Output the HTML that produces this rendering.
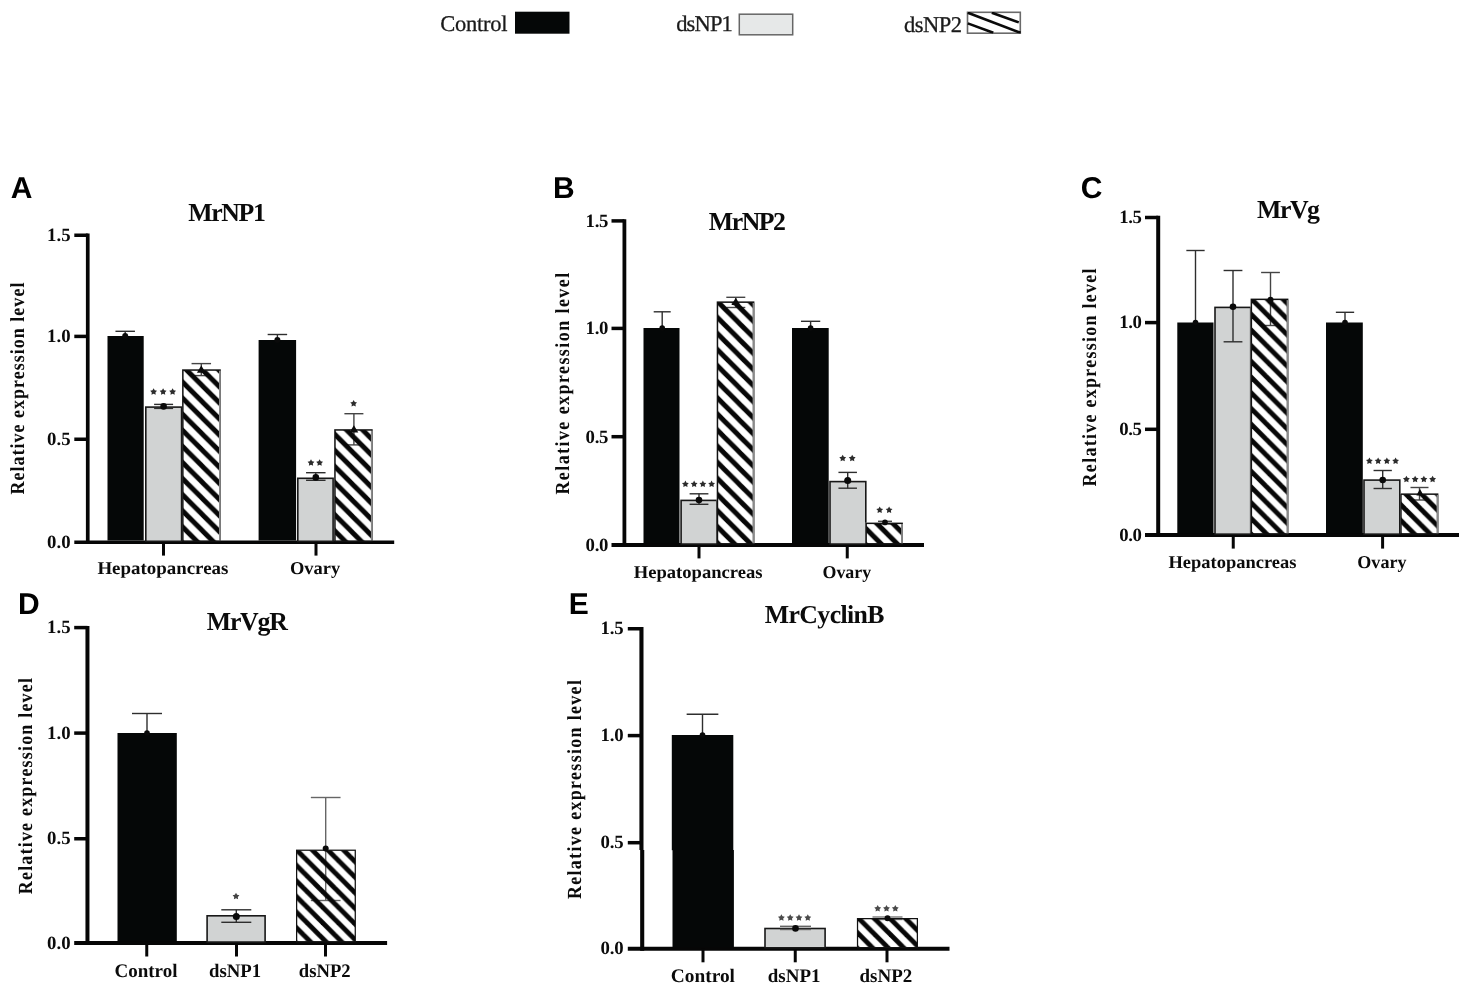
<!DOCTYPE html>
<html lang="en"><head><meta charset="utf-8"><title>Relative expression levels</title>
<style>html,body{margin:0;padding:0;background:#fff;}body{width:1469px;height:992px;overflow:hidden;font-family:"Liberation Serif",serif;}svg{display:block;will-change:transform;}text{text-rendering:geometricPrecision;}</style></head><body>
<svg width="1469" height="992" viewBox="0 0 1469 992">
<rect width="1469" height="992" fill="#ffffff"/>
<defs><pattern id="h1" patternUnits="userSpaceOnUse" x="202" y="449.8" width="16.1" height="16.1"><polygon points="0,-19.55 16.1,-3.45 16.1,3.45 0,-12.650000000000002" fill="#070707"/><polygon points="0,-3.45 16.1,12.650000000000002 16.1,19.55 0,3.45" fill="#070707"/><polygon points="0,12.650000000000002 16.1,28.750000000000004 16.1,35.650000000000006 0,19.55" fill="#070707"/></pattern><pattern id="h2" patternUnits="userSpaceOnUse" x="335" y="434.5" width="16.1" height="16.1"><polygon points="0,-19.55 16.1,-3.45 16.1,3.45 0,-12.650000000000002" fill="#070707"/><polygon points="0,-3.45 16.1,12.650000000000002 16.1,19.55 0,3.45" fill="#070707"/><polygon points="0,12.650000000000002 16.1,28.750000000000004 16.1,35.650000000000006 0,19.55" fill="#070707"/></pattern><pattern id="h3" patternUnits="userSpaceOnUse" x="738.25" y="402.7" width="16.1" height="16.1"><polygon points="0,-19.55 16.1,-3.45 16.1,3.45 0,-12.650000000000002" fill="#070707"/><polygon points="0,-3.45 16.1,12.650000000000002 16.1,19.55 0,3.45" fill="#070707"/><polygon points="0,12.650000000000002 16.1,28.750000000000004 16.1,35.650000000000006 0,19.55" fill="#070707"/></pattern><pattern id="h4" patternUnits="userSpaceOnUse" x="886.9" y="533.5" width="16.1" height="16.1"><polygon points="0,-19.55 16.1,-3.45 16.1,3.45 0,-12.650000000000002" fill="#070707"/><polygon points="0,-3.45 16.1,12.650000000000002 16.1,19.55 0,3.45" fill="#070707"/><polygon points="0,12.650000000000002 16.1,28.750000000000004 16.1,35.650000000000006 0,19.55" fill="#070707"/></pattern><pattern id="h5" patternUnits="userSpaceOnUse" x="1252" y="315.2" width="15.7" height="15.7"><polygon points="0,-19.15 15.7,-3.45 15.7,3.45 0,-12.25" fill="#070707"/><polygon points="0,-3.45 15.7,12.25 15.7,19.15 0,3.45" fill="#070707"/><polygon points="0,12.25 15.7,27.95 15.7,34.85 0,19.15" fill="#070707"/></pattern><pattern id="h6" patternUnits="userSpaceOnUse" x="1422.7" y="510.9" width="15.7" height="15.7"><polygon points="0,-19.15 15.7,-3.45 15.7,3.45 0,-12.25" fill="#070707"/><polygon points="0,-3.45 15.7,12.25 15.7,19.15 0,3.45" fill="#070707"/><polygon points="0,12.25 15.7,27.95 15.7,34.85 0,19.15" fill="#070707"/></pattern><pattern id="h7" patternUnits="userSpaceOnUse" x="321.0" y="921.1" width="15.6" height="15.6"><polygon points="0,-19.05 15.6,-3.45 15.6,3.45 0,-12.149999999999999" fill="#070707"/><polygon points="0,-3.45 15.6,12.149999999999999 15.6,19.05 0,3.45" fill="#070707"/><polygon points="0,12.149999999999999 15.6,27.75 15.6,34.65 0,19.05" fill="#070707"/></pattern><pattern id="h8" patternUnits="userSpaceOnUse" x="889.05" y="933.1" width="15.6" height="15.6"><polygon points="0,-19.05 15.6,-3.45 15.6,3.45 0,-12.149999999999999" fill="#070707"/><polygon points="0,-3.45 15.6,12.149999999999999 15.6,19.05 0,3.45" fill="#070707"/><polygon points="0,12.149999999999999 15.6,27.75 15.6,34.65 0,19.05" fill="#070707"/></pattern></defs>
<text x="440.3" y="31.2" font-family='"Liberation Serif", serif' font-size="22.5" font-weight="normal" text-anchor="start" fill="#1a1a1a" textLength="67.2" lengthAdjust="spacing" stroke="#1a1a1a" stroke-width="0.3">Control</text>
<rect x="515" y="11.7" width="54.5" height="22" fill="#050707"/>
<text x="676.2" y="31.2" font-family='"Liberation Serif", serif' font-size="22.5" font-weight="normal" text-anchor="start" fill="#1a1a1a" textLength="56.6" lengthAdjust="spacing" stroke="#1a1a1a" stroke-width="0.3">dsNP1</text>
<rect x="739.3" y="14.2" width="53.4" height="20.6" fill="#e6e8e8" stroke="#666" stroke-width="1.5"/>
<text x="904" y="31.6" font-family='"Liberation Serif", serif' font-size="22.5" font-weight="normal" text-anchor="start" fill="#1a1a1a" textLength="58" lengthAdjust="spacing" stroke="#1a1a1a" stroke-width="0.3">dsNP2</text>
<g><clipPath id="lgc"><rect x="967" y="12" width="54" height="21.5"/></clipPath>
<rect x="967.5" y="12.3" width="52.8" height="20.9" fill="#fff" stroke="#6a6a6a" stroke-width="1.6"/>
<g clip-path="url(#lgc)" stroke="#0a0a0a" stroke-width="2.6" stroke-linecap="butt">
<line x1="967.8" y1="12.7" x2="1020.6" y2="32.8"/>
<line x1="967.8" y1="23.4" x2="993.3" y2="32.8"/>
<line x1="991.8" y1="12.7" x2="1018.8" y2="22.4"/>
</g></g>
<text x="10.7" y="198.3" font-family='"Liberation Sans", sans-serif' font-size="30" font-weight="bold" text-anchor="start" fill="#000">A</text>
<text x="553" y="198.3" font-family='"Liberation Sans", sans-serif' font-size="30" font-weight="bold" text-anchor="start" fill="#000">B</text>
<text x="1080.8" y="198.3" font-family='"Liberation Sans", sans-serif' font-size="30" font-weight="bold" text-anchor="start" fill="#000">C</text>
<text x="18.1" y="613.5" font-family='"Liberation Sans", sans-serif' font-size="30" font-weight="bold" text-anchor="start" fill="#000">D</text>
<text x="568.7" y="613.5" font-family='"Liberation Sans", sans-serif' font-size="30" font-weight="bold" text-anchor="start" fill="#000">E</text>
<g stroke="#060606" stroke-width="3.7" fill="none" stroke-linecap="butt">
<line x1="87.75" y1="233.6" x2="87.75" y2="544.1"/>
<line x1="74.3" y1="542.25" x2="394.2" y2="542.25"/>
<line x1="74.3" y1="439.25" x2="87.75" y2="439.25" stroke-width="3.5"/>
<line x1="74.3" y1="336.4" x2="87.75" y2="336.4" stroke-width="3.5"/>
<line x1="74.3" y1="235.25" x2="87.75" y2="235.25" stroke-width="3.5"/>
<line x1="163.5" y1="542.25" x2="163.5" y2="555.6" stroke-width="3"/>
<line x1="316" y1="542.25" x2="316" y2="555.6" stroke-width="3"/>
</g>
<text x="70.7" y="240.75" font-family='"Liberation Serif", serif' font-size="18.8" font-weight="bold" text-anchor="end" fill="#0b0b0b" textLength="23.8" lengthAdjust="spacing">1.5</text>
<text x="70.7" y="341.9" font-family='"Liberation Serif", serif' font-size="18.8" font-weight="bold" text-anchor="end" fill="#0b0b0b" textLength="23.8" lengthAdjust="spacing">1.0</text>
<text x="70.7" y="444.75" font-family='"Liberation Serif", serif' font-size="18.8" font-weight="bold" text-anchor="end" fill="#0b0b0b" textLength="23.8" lengthAdjust="spacing">0.5</text>
<text x="70.7" y="547.75" font-family='"Liberation Serif", serif' font-size="18.8" font-weight="bold" text-anchor="end" fill="#0b0b0b" textLength="23.8" lengthAdjust="spacing">0.0</text>
<text x="188.3" y="221" font-family='"Liberation Serif", serif' font-size="25.8" font-weight="bold" text-anchor="start" fill="#0b0b0b" textLength="77.5" lengthAdjust="spacing">MrNP1</text>
<text transform="translate(24.0,494.6) rotate(-90) scale(0.9,1)" font-family='"Liberation Serif", serif' font-size="20" font-weight="bold" fill="#0b0b0b" textLength="235.56" lengthAdjust="spacing">Relative expression level</text>
<text x="97.4" y="574" font-family='"Liberation Serif", serif' font-size="18" font-weight="bold" text-anchor="start" fill="#0b0b0b" textLength="131.0" lengthAdjust="spacingAndGlyphs">Hepatopancreas</text>
<text x="290" y="574" font-family='"Liberation Serif", serif' font-size="18" font-weight="bold" text-anchor="start" fill="#0b0b0b" textLength="50.3" lengthAdjust="spacingAndGlyphs">Ovary</text>
<rect x="107.5" y="336" width="36.19999999999999" height="204.5" fill="#050707"/>
<rect x="145.8" y="407.1" width="35.800000000000004" height="134.2" fill="#d1d3d3" stroke="#181818" stroke-width="1.6"/>
<rect x="182.1" y="369.3" width="38.70000000000002" height="171.2" fill="#fff"/>
<g stroke="#444" stroke-width="1.4" fill="none">
<line x1="201.3" y1="363.6" x2="201.3" y2="375.6"/>
<line x1="191.55" y1="363.6" x2="211.05" y2="363.6"/>
<line x1="191.55" y1="375.6" x2="211.05" y2="375.6"/>
</g>
<rect x="182.85" y="370.05" width="37.20000000000002" height="171.2" fill="url(#h1)" stroke="#111" stroke-width="1.5"/>
<line x1="219.9" y1="370.8" x2="219.9" y2="540.5" stroke="#8a8a8a" stroke-width="1.8"/>
<rect x="258.6" y="340" width="37.5" height="200.5" fill="#050707"/>
<rect x="297.8" y="478.3" width="35.299999999999976" height="63.0" fill="#d1d3d3" stroke="#181818" stroke-width="1.6"/>
<rect x="334.2" y="429.2" width="38.5" height="111.30000000000001" fill="#fff"/>
<g stroke="#444" stroke-width="1.4" fill="none">
<line x1="353.9" y1="413.7" x2="353.9" y2="444.9"/>
<line x1="344.4" y1="413.7" x2="363.4" y2="413.7"/>
<line x1="344.4" y1="444.9" x2="363.4" y2="444.9"/>
</g>
<rect x="334.95" y="429.95" width="37.0" height="111.30000000000001" fill="url(#h2)" stroke="#111" stroke-width="1.5"/>
<line x1="371.8" y1="430.7" x2="371.8" y2="540.5" stroke="#8a8a8a" stroke-width="1.8"/>
<g stroke="#2e2e2e" stroke-width="1.4" fill="none">
<line x1="125.2" y1="331.3" x2="125.2" y2="336"/>
<line x1="115.45" y1="331.3" x2="134.95" y2="331.3"/>
</g>
<circle cx="125.2" cy="336" r="3.0" fill="#0a0a0a"/>
<g stroke="#2e2e2e" stroke-width="1.4" fill="none">
<line x1="163.6" y1="404.4" x2="163.6" y2="408.4"/>
<line x1="154.1" y1="404.4" x2="173.1" y2="404.4"/>
<line x1="154.1" y1="408.4" x2="173.1" y2="408.4"/>
</g>
<circle cx="163.6" cy="406.4" r="3.3" fill="#0a0a0a"/>
<polygon points="153.60,388.20 154.72,390.26 157.02,390.69 155.41,392.39 155.72,394.71 153.60,393.70 151.48,394.71 151.79,392.39 150.18,390.69 152.48,390.26" fill="#2c2c2c"/>
<polygon points="163.10,388.20 164.22,390.26 166.52,390.69 164.91,392.39 165.22,394.71 163.10,393.70 160.98,394.71 161.29,392.39 159.68,390.69 161.98,390.26" fill="#2c2c2c"/>
<polygon points="172.60,388.20 173.72,390.26 176.02,390.69 174.41,392.39 174.72,394.71 172.60,393.70 170.48,394.71 170.79,392.39 169.18,390.69 171.48,390.26" fill="#2c2c2c"/>
<polygon points="201.3,365.4 205.70000000000002,372.8 196.9,372.8" fill="#0a0a0a"/>
<g stroke="#2e2e2e" stroke-width="1.4" fill="none">
<line x1="277.4" y1="334.5" x2="277.4" y2="340"/>
<line x1="267.65" y1="334.5" x2="287.15" y2="334.5"/>
</g>
<circle cx="277.4" cy="340" r="3.0" fill="#0a0a0a"/>
<g stroke="#2e2e2e" stroke-width="1.4" fill="none">
<line x1="315.8" y1="472.7" x2="315.8" y2="480.3"/>
<line x1="306.05" y1="472.7" x2="325.55" y2="472.7"/>
<line x1="306.05" y1="480.3" x2="325.55" y2="480.3"/>
</g>
<circle cx="315.8" cy="477.4" r="3.3" fill="#0a0a0a"/>
<polygon points="311.00,459.20 312.12,461.26 314.42,461.69 312.81,463.39 313.12,465.71 311.00,464.70 308.88,465.71 309.19,463.39 307.58,461.69 309.88,461.26" fill="#2c2c2c"/>
<polygon points="319.60,459.20 320.72,461.26 323.02,461.69 321.41,463.39 321.72,465.71 319.60,464.70 317.48,465.71 317.79,463.39 316.18,461.69 318.48,461.26" fill="#2c2c2c"/>
<polygon points="353.9,425.2 358.29999999999995,432.6 349.5,432.6" fill="#0a0a0a"/>
<polygon points="353.65,399.90 354.77,401.96 357.07,402.39 355.46,404.09 355.77,406.41 353.65,405.40 351.53,406.41 351.84,404.09 350.23,402.39 352.53,401.96" fill="#2c2c2c"/>
<g stroke="#060606" stroke-width="3.8" fill="none" stroke-linecap="butt">
<line x1="624.4" y1="219.2" x2="624.4" y2="546.9"/>
<line x1="611.5" y1="545" x2="924.0" y2="545"/>
<line x1="611.5" y1="436.7" x2="624.4" y2="436.7" stroke-width="3.5"/>
<line x1="611.5" y1="328.4" x2="624.4" y2="328.4" stroke-width="3.5"/>
<line x1="611.5" y1="220.9" x2="624.4" y2="220.9" stroke-width="3.5"/>
<line x1="699" y1="545" x2="699" y2="558.4" stroke-width="3"/>
<line x1="847.25" y1="545" x2="847.25" y2="558.4" stroke-width="3"/>
</g>
<text x="608.4" y="226.9" font-family='"Liberation Serif", serif' font-size="18.8" font-weight="bold" text-anchor="end" fill="#0b0b0b" textLength="22.8" lengthAdjust="spacing">1.5</text>
<text x="608.4" y="334.4" font-family='"Liberation Serif", serif' font-size="18.8" font-weight="bold" text-anchor="end" fill="#0b0b0b" textLength="22.8" lengthAdjust="spacing">1.0</text>
<text x="608.4" y="442.7" font-family='"Liberation Serif", serif' font-size="18.8" font-weight="bold" text-anchor="end" fill="#0b0b0b" textLength="22.8" lengthAdjust="spacing">0.5</text>
<text x="608.4" y="551.0" font-family='"Liberation Serif", serif' font-size="18.8" font-weight="bold" text-anchor="end" fill="#0b0b0b" textLength="22.8" lengthAdjust="spacing">0.0</text>
<text x="708.8" y="229.5" font-family='"Liberation Serif", serif' font-size="25.8" font-weight="bold" text-anchor="start" fill="#0b0b0b" textLength="77.2" lengthAdjust="spacing">MrNP2</text>
<text transform="translate(568.5,494.6) rotate(-90) scale(0.9,1)" font-family='"Liberation Serif", serif' font-size="20" font-weight="bold" fill="#0b0b0b" textLength="246.44" lengthAdjust="spacing">Relative expression level</text>
<text x="633.8" y="578.2" font-family='"Liberation Serif", serif' font-size="18" font-weight="bold" text-anchor="start" fill="#0b0b0b" textLength="128.7" lengthAdjust="spacingAndGlyphs">Hepatopancreas</text>
<text x="822.5" y="578.2" font-family='"Liberation Serif", serif' font-size="18" font-weight="bold" text-anchor="start" fill="#0b0b0b" textLength="48.7" lengthAdjust="spacingAndGlyphs">Ovary</text>
<rect x="643.5" y="328" width="36.0" height="215.25" fill="#050707"/>
<rect x="681.0999999999999" y="500.40000000000003" width="35.70000000000007" height="43.64999999999998" fill="#d1d3d3" stroke="#181818" stroke-width="1.6"/>
<rect x="716.7" y="301.4" width="37.69999999999993" height="241.85000000000002" fill="#fff"/>
<g stroke="#444" stroke-width="1.4" fill="none">
<line x1="735.8" y1="297.3" x2="735.8" y2="307.5"/>
<line x1="726.3" y1="297.3" x2="745.3" y2="297.3"/>
<line x1="726.3" y1="307.5" x2="745.3" y2="307.5"/>
</g>
<rect x="717.45" y="302.15" width="36.19999999999993" height="241.85000000000002" fill="url(#h3)" stroke="#111" stroke-width="1.5"/>
<line x1="753.5" y1="302.9" x2="753.5" y2="543.25" stroke="#8a8a8a" stroke-width="1.8"/>
<rect x="792" y="328" width="36.700000000000045" height="215.25" fill="#050707"/>
<rect x="830.0" y="481.6" width="35.799999999999976" height="62.44999999999999" fill="#d1d3d3" stroke="#181818" stroke-width="1.6"/>
<rect x="865.4" y="522.6" width="37.5" height="20.649999999999977" fill="#fff"/>
<g stroke="#444" stroke-width="1.4" fill="none">
<line x1="885" y1="521.3" x2="885" y2="524"/>
<line x1="878.0" y1="521.3" x2="892.0" y2="521.3"/>
<line x1="878.0" y1="524" x2="892.0" y2="524"/>
</g>
<rect x="866.15" y="523.35" width="36.0" height="20.649999999999977" fill="url(#h4)" stroke="#111" stroke-width="1.5"/>
<line x1="902.0" y1="524.1" x2="902.0" y2="543.25" stroke="#8a8a8a" stroke-width="1.8"/>
<g stroke="#2e2e2e" stroke-width="1.4" fill="none">
<line x1="662.2" y1="311.8" x2="662.2" y2="328"/>
<line x1="653.7" y1="311.8" x2="670.7" y2="311.8"/>
</g>
<circle cx="662.2" cy="328" r="2.8" fill="#0a0a0a"/>
<g stroke="#2e2e2e" stroke-width="1.4" fill="none">
<line x1="699" y1="493.8" x2="699" y2="504.3"/>
<line x1="689.6" y1="493.8" x2="708.4" y2="493.8"/>
<line x1="689.6" y1="504.3" x2="708.4" y2="504.3"/>
</g>
<circle cx="699" cy="500" r="3.3" fill="#0a0a0a"/>
<polygon points="685.40,480.60 686.52,482.66 688.82,483.09 687.21,484.79 687.52,487.11 685.40,486.10 683.28,487.11 683.59,484.79 681.98,483.09 684.28,482.66" fill="#2c2c2c"/>
<polygon points="694.13,480.60 695.25,482.66 697.56,483.09 695.94,484.79 696.25,487.11 694.13,486.10 692.02,487.11 692.33,484.79 690.71,483.09 693.02,482.66" fill="#2c2c2c"/>
<polygon points="702.87,480.60 703.98,482.66 706.29,483.09 704.67,484.79 704.98,487.11 702.87,486.10 700.75,487.11 701.06,484.79 699.44,483.09 701.75,482.66" fill="#2c2c2c"/>
<polygon points="711.60,480.60 712.72,482.66 715.02,483.09 713.41,484.79 713.72,487.11 711.60,486.10 709.48,487.11 709.79,484.79 708.18,483.09 710.48,482.66" fill="#2c2c2c"/>
<polygon points="735.8,297.7 740.1999999999999,305.1 731.4,305.1" fill="#0a0a0a"/>
<g stroke="#2e2e2e" stroke-width="1.4" fill="none">
<line x1="810.6" y1="321.3" x2="810.6" y2="328"/>
<line x1="800.95" y1="321.3" x2="820.25" y2="321.3"/>
</g>
<circle cx="810.6" cy="328" r="2.8" fill="#0a0a0a"/>
<g stroke="#2e2e2e" stroke-width="1.4" fill="none">
<line x1="847.7" y1="472.4" x2="847.7" y2="488.2"/>
<line x1="838.45" y1="472.4" x2="856.95" y2="472.4"/>
<line x1="838.45" y1="488.2" x2="856.95" y2="488.2"/>
</g>
<circle cx="847.7" cy="480.5" r="3.5" fill="#0a0a0a"/>
<polygon points="842.70,454.70 843.82,456.76 846.12,457.19 844.51,458.89 844.82,461.21 842.70,460.20 840.58,461.21 840.89,458.89 839.28,457.19 841.58,456.76" fill="#2c2c2c"/>
<polygon points="852.20,454.70 853.32,456.76 855.62,457.19 854.01,458.89 854.32,461.21 852.20,460.20 850.08,461.21 850.39,458.89 848.78,457.19 851.08,456.76" fill="#2c2c2c"/>
<circle cx="885" cy="522.4" r="2.8" fill="#0a0a0a"/>
<polygon points="879.70,506.40 880.82,508.46 883.12,508.89 881.51,510.59 881.82,512.91 879.70,511.90 877.58,512.91 877.89,510.59 876.28,508.89 878.58,508.46" fill="#2c2c2c"/>
<polygon points="889.10,506.40 890.22,508.46 892.52,508.89 890.91,510.59 891.22,512.91 889.10,511.90 886.98,512.91 887.29,510.59 885.68,508.89 887.98,508.46" fill="#2c2c2c"/>
<g stroke="#060606" stroke-width="4.0" fill="none" stroke-linecap="butt">
<line x1="1158.2" y1="215.8" x2="1158.2" y2="537.1"/>
<line x1="1145.0" y1="535.1" x2="1459" y2="535.1"/>
<line x1="1145.0" y1="429.3" x2="1158.2" y2="429.3" stroke-width="3.5"/>
<line x1="1145.0" y1="322.6" x2="1158.2" y2="322.6" stroke-width="3.5"/>
<line x1="1145.0" y1="217.5" x2="1158.2" y2="217.5" stroke-width="3.5"/>
<line x1="1233.25" y1="535.1" x2="1233.25" y2="548.6" stroke-width="3"/>
<line x1="1382.6" y1="535.1" x2="1382.6" y2="548.6" stroke-width="3"/>
</g>
<text x="1142.0" y="223.2" font-family='"Liberation Serif", serif' font-size="18.8" font-weight="bold" text-anchor="end" fill="#0b0b0b" textLength="22.8" lengthAdjust="spacing">1.5</text>
<text x="1142.0" y="328.3" font-family='"Liberation Serif", serif' font-size="18.8" font-weight="bold" text-anchor="end" fill="#0b0b0b" textLength="22.8" lengthAdjust="spacing">1.0</text>
<text x="1142.0" y="435.0" font-family='"Liberation Serif", serif' font-size="18.8" font-weight="bold" text-anchor="end" fill="#0b0b0b" textLength="22.8" lengthAdjust="spacing">0.5</text>
<text x="1142.0" y="540.8000000000001" font-family='"Liberation Serif", serif' font-size="18.8" font-weight="bold" text-anchor="end" fill="#0b0b0b" textLength="22.8" lengthAdjust="spacing">0.0</text>
<text x="1257.0" y="218" font-family='"Liberation Serif", serif' font-size="25.8" font-weight="bold" text-anchor="start" fill="#0b0b0b" textLength="63.0" lengthAdjust="spacing">MrVg</text>
<text transform="translate(1096.0,486.4) rotate(-90) scale(0.9,1)" font-family='"Liberation Serif", serif' font-size="20" font-weight="bold" fill="#0b0b0b" textLength="242.22" lengthAdjust="spacing">Relative expression level</text>
<text x="1168.5" y="568" font-family='"Liberation Serif", serif' font-size="18" font-weight="bold" text-anchor="start" fill="#0b0b0b" textLength="128" lengthAdjust="spacingAndGlyphs">Hepatopancreas</text>
<text x="1357.3" y="568" font-family='"Liberation Serif", serif' font-size="18" font-weight="bold" text-anchor="start" fill="#0b0b0b" textLength="49.2" lengthAdjust="spacingAndGlyphs">Ovary</text>
<rect x="1177.3" y="322.5" width="36.200000000000045" height="210.85000000000002" fill="#050707"/>
<rect x="1215.0" y="307.40000000000003" width="35.69999999999995" height="226.75" fill="#d1d3d3" stroke="#181818" stroke-width="1.6"/>
<rect x="1250.6" y="298.6" width="37.80000000000018" height="234.75" fill="#fff"/>
<g stroke="#444" stroke-width="1.4" fill="none">
<line x1="1270.5" y1="272.5" x2="1270.5" y2="325.5"/>
<line x1="1261.1" y1="272.5" x2="1279.9" y2="272.5"/>
<line x1="1261.1" y1="325.5" x2="1279.9" y2="325.5"/>
</g>
<rect x="1251.35" y="299.35" width="36.30000000000018" height="234.75" fill="url(#h5)" stroke="#111" stroke-width="1.5"/>
<line x1="1287.5" y1="300.1" x2="1287.5" y2="533.35" stroke="#8a8a8a" stroke-width="1.8"/>
<rect x="1326" y="322.5" width="36.799999999999955" height="210.85000000000002" fill="#050707"/>
<rect x="1364.0" y="480.1" width="35.79999999999986" height="54.05000000000001" fill="#d1d3d3" stroke="#181818" stroke-width="1.6"/>
<rect x="1400.2" y="493.4" width="38.200000000000045" height="39.950000000000045" fill="#fff"/>
<g stroke="#444" stroke-width="1.4" fill="none">
<line x1="1419.5" y1="487.5" x2="1419.5" y2="500"/>
<line x1="1410.5" y1="487.5" x2="1428.5" y2="487.5"/>
<line x1="1410.5" y1="500" x2="1428.5" y2="500"/>
</g>
<rect x="1400.95" y="494.15" width="36.700000000000045" height="39.950000000000045" fill="url(#h6)" stroke="#111" stroke-width="1.5"/>
<line x1="1437.5" y1="494.9" x2="1437.5" y2="533.35" stroke="#8a8a8a" stroke-width="1.8"/>
<g stroke="#2e2e2e" stroke-width="1.4" fill="none">
<line x1="1195.5" y1="250.5" x2="1195.5" y2="322.5"/>
<line x1="1186.35" y1="250.5" x2="1204.65" y2="250.5"/>
</g>
<circle cx="1195.5" cy="322.5" r="2.8" fill="#0a0a0a"/>
<g stroke="#2e2e2e" stroke-width="1.4" fill="none">
<line x1="1233" y1="270.5" x2="1233" y2="341.8"/>
<line x1="1223.6" y1="270.5" x2="1242.4" y2="270.5"/>
<line x1="1223.6" y1="341.8" x2="1242.4" y2="341.8"/>
</g>
<circle cx="1233" cy="306.8" r="3.3" fill="#0a0a0a"/>
<circle cx="1270.5" cy="299.8" r="3.0" fill="#0a0a0a"/>
<g stroke="#2e2e2e" stroke-width="1.4" fill="none">
<line x1="1345" y1="312.3" x2="1345" y2="322.5"/>
<line x1="1335.85" y1="312.3" x2="1354.15" y2="312.3"/>
</g>
<circle cx="1345" cy="322.5" r="2.8" fill="#0a0a0a"/>
<g stroke="#2e2e2e" stroke-width="1.4" fill="none">
<line x1="1382.7" y1="470.5" x2="1382.7" y2="488.5"/>
<line x1="1373.55" y1="470.5" x2="1391.8500000000001" y2="470.5"/>
<line x1="1373.55" y1="488.5" x2="1391.8500000000001" y2="488.5"/>
</g>
<circle cx="1382.7" cy="480" r="3.3" fill="#0a0a0a"/>
<polygon points="1369.40,457.40 1370.52,459.46 1372.82,459.89 1371.21,461.59 1371.52,463.91 1369.40,462.90 1367.28,463.91 1367.59,461.59 1365.98,459.89 1368.28,459.46" fill="#2c2c2c"/>
<polygon points="1378.13,457.40 1379.25,459.46 1381.56,459.89 1379.94,461.59 1380.25,463.91 1378.13,462.90 1376.02,463.91 1376.33,461.59 1374.71,459.89 1377.02,459.46" fill="#2c2c2c"/>
<polygon points="1386.87,457.40 1387.98,459.46 1390.29,459.89 1388.67,461.59 1388.98,463.91 1386.87,462.90 1384.75,463.91 1385.06,461.59 1383.44,459.89 1385.75,459.46" fill="#2c2c2c"/>
<polygon points="1395.60,457.40 1396.72,459.46 1399.02,459.89 1397.41,461.59 1397.72,463.91 1395.60,462.90 1393.48,463.91 1393.79,461.59 1392.18,459.89 1394.48,459.46" fill="#2c2c2c"/>
<polygon points="1420,489.0 1423.6,495.40000000000003 1416.4,495.40000000000003" fill="#0a0a0a"/>
<polygon points="1406.40,475.70 1407.52,477.76 1409.82,478.19 1408.21,479.89 1408.52,482.21 1406.40,481.20 1404.28,482.21 1404.59,479.89 1402.98,478.19 1405.28,477.76" fill="#2c2c2c"/>
<polygon points="1415.13,475.70 1416.25,477.76 1418.56,478.19 1416.94,479.89 1417.25,482.21 1415.13,481.20 1413.02,482.21 1413.33,479.89 1411.71,478.19 1414.02,477.76" fill="#2c2c2c"/>
<polygon points="1423.87,475.70 1424.98,477.76 1427.29,478.19 1425.67,479.89 1425.98,482.21 1423.87,481.20 1421.75,482.21 1422.06,479.89 1420.44,478.19 1422.75,477.76" fill="#2c2c2c"/>
<polygon points="1432.60,475.70 1433.72,477.76 1436.02,478.19 1434.41,479.89 1434.72,482.21 1432.60,481.20 1430.48,482.21 1430.79,479.89 1429.18,478.19 1431.48,477.76" fill="#2c2c2c"/>
<g stroke="#060606" stroke-width="4.0" fill="none" stroke-linecap="butt">
<line x1="87.45" y1="626" x2="87.45" y2="945.0"/>
<line x1="74.2" y1="943" x2="387.1" y2="943"/>
<line x1="74.2" y1="838.75" x2="87.45" y2="838.75" stroke-width="3.5"/>
<line x1="74.2" y1="733.1" x2="87.45" y2="733.1" stroke-width="3.5"/>
<line x1="74.2" y1="627.6" x2="87.45" y2="627.6" stroke-width="3.5"/>
<line x1="146.75" y1="943" x2="146.75" y2="956.5" stroke-width="3"/>
<line x1="236.5" y1="943" x2="236.5" y2="956.5" stroke-width="3"/>
<line x1="325.5" y1="943" x2="325.5" y2="956.5" stroke-width="3"/>
</g>
<text x="70.7" y="633.1" font-family='"Liberation Serif", serif' font-size="18.8" font-weight="bold" text-anchor="end" fill="#0b0b0b" textLength="23.8" lengthAdjust="spacing">1.5</text>
<text x="70.7" y="738.6" font-family='"Liberation Serif", serif' font-size="18.8" font-weight="bold" text-anchor="end" fill="#0b0b0b" textLength="23.8" lengthAdjust="spacing">1.0</text>
<text x="70.7" y="844.25" font-family='"Liberation Serif", serif' font-size="18.8" font-weight="bold" text-anchor="end" fill="#0b0b0b" textLength="23.8" lengthAdjust="spacing">0.5</text>
<text x="70.7" y="948.5" font-family='"Liberation Serif", serif' font-size="18.8" font-weight="bold" text-anchor="end" fill="#0b0b0b" textLength="23.8" lengthAdjust="spacing">0.0</text>
<text x="206.8" y="629.7" font-family='"Liberation Serif", serif' font-size="25.8" font-weight="bold" text-anchor="start" fill="#0b0b0b" textLength="81.0" lengthAdjust="spacing">MrVgR</text>
<text transform="translate(31.7,894.2) rotate(-90) scale(0.9,1)" font-family='"Liberation Serif", serif' font-size="20" font-weight="bold" fill="#0b0b0b" textLength="240.22" lengthAdjust="spacing">Relative expression level</text>
<text x="114.5" y="976.5" font-family='"Liberation Serif", serif' font-size="19.2" font-weight="bold" text-anchor="start" fill="#0b0b0b" textLength="63.0" lengthAdjust="spacingAndGlyphs">Control</text>
<text x="209.0" y="976.5" font-family='"Liberation Serif", serif' font-size="19.2" font-weight="bold" text-anchor="start" fill="#0b0b0b" textLength="52.0" lengthAdjust="spacingAndGlyphs">dsNP1</text>
<text x="298.8" y="976.5" font-family='"Liberation Serif", serif' font-size="19.2" font-weight="bold" text-anchor="start" fill="#0b0b0b" textLength="51.8" lengthAdjust="spacingAndGlyphs">dsNP2</text>
<rect x="117.5" y="733" width="59.30000000000001" height="208.25" fill="#050707"/>
<rect x="207.10000000000002" y="915.8" width="57.999999999999964" height="26.25" fill="#d1d3d3" stroke="#181818" stroke-width="1.6"/>
<rect x="296.0" y="849.6" width="59.89999999999998" height="91.64999999999998" fill="#fff"/>
<g stroke="#666" stroke-width="1.4" fill="none">
<line x1="325.7" y1="797.5" x2="325.7" y2="900.5"/>
<line x1="310.84999999999997" y1="797.5" x2="340.55" y2="797.5"/>
<line x1="310.84999999999997" y1="900.5" x2="340.55" y2="900.5"/>
</g>
<rect x="296.625" y="850.225" width="58.64999999999998" height="91.64999999999998" fill="url(#h7)" stroke="#111" stroke-width="1.25"/>
<g stroke="#2e2e2e" stroke-width="1.4" fill="none">
<line x1="147" y1="713.5" x2="147" y2="733"/>
<line x1="132.0" y1="713.5" x2="162.0" y2="713.5"/>
</g>
<circle cx="147" cy="733" r="2.8" fill="#0a0a0a"/>
<g stroke="#2e2e2e" stroke-width="1.4" fill="none">
<line x1="236.3" y1="909.8" x2="236.3" y2="922.3"/>
<line x1="221.3" y1="909.8" x2="251.3" y2="909.8"/>
<line x1="221.3" y1="922.3" x2="251.3" y2="922.3"/>
</g>
<circle cx="236.3" cy="916.5" r="3.5" fill="#0a0a0a"/>
<polygon points="236.00,892.70 237.12,894.76 239.42,895.19 237.81,896.89 238.12,899.21 236.00,898.20 233.88,899.21 234.19,896.89 232.58,895.19 234.88,894.76" fill="#444"/>
<circle cx="325.7" cy="848.6" r="3.0" fill="#0a0a0a"/>
<g stroke="#060606" stroke-width="4.1" fill="none" stroke-linecap="butt">
<line x1="641.45" y1="627" x2="641.45" y2="850"/>
<line x1="642.2" y1="850" x2="642.2" y2="950.8"/>
<line x1="627.8" y1="948.75" x2="949.5" y2="948.75"/>
<line x1="627.8" y1="842.7" x2="641.45" y2="842.7" stroke-width="3.5"/>
<line x1="627.8" y1="735.6" x2="641.45" y2="735.6" stroke-width="3.5"/>
<line x1="627.8" y1="628.75" x2="641.45" y2="628.75" stroke-width="3.5"/>
<line x1="703" y1="948.75" x2="703" y2="962.3" stroke-width="3"/>
<line x1="795.25" y1="948.75" x2="795.25" y2="962.3" stroke-width="3"/>
<line x1="887" y1="948.75" x2="887" y2="962.3" stroke-width="3"/>
</g>
<text x="623.6" y="634.45" font-family='"Liberation Serif", serif' font-size="18.8" font-weight="bold" text-anchor="end" fill="#0b0b0b" textLength="23.0" lengthAdjust="spacing">1.5</text>
<text x="623.6" y="741.3000000000001" font-family='"Liberation Serif", serif' font-size="18.8" font-weight="bold" text-anchor="end" fill="#0b0b0b" textLength="23.0" lengthAdjust="spacing">1.0</text>
<text x="623.6" y="848.4000000000001" font-family='"Liberation Serif", serif' font-size="18.8" font-weight="bold" text-anchor="end" fill="#0b0b0b" textLength="23.0" lengthAdjust="spacing">0.5</text>
<text x="623.6" y="954.45" font-family='"Liberation Serif", serif' font-size="18.8" font-weight="bold" text-anchor="end" fill="#0b0b0b" textLength="23.0" lengthAdjust="spacing">0.0</text>
<text x="764.8" y="623" font-family='"Liberation Serif", serif' font-size="25.8" font-weight="bold" text-anchor="start" fill="#0b0b0b" textLength="119.7" lengthAdjust="spacing">MrCyclinB</text>
<text transform="translate(581.3,899.1) rotate(-90) scale(0.9,1)" font-family='"Liberation Serif", serif' font-size="20" font-weight="bold" fill="#0b0b0b" textLength="243.33" lengthAdjust="spacing">Relative expression level</text>
<text x="670.8" y="982.2" font-family='"Liberation Serif", serif' font-size="19.2" font-weight="bold" text-anchor="start" fill="#0b0b0b" textLength="64.2" lengthAdjust="spacingAndGlyphs">Control</text>
<text x="767.8" y="982.2" font-family='"Liberation Serif", serif' font-size="19.2" font-weight="bold" text-anchor="start" fill="#0b0b0b" textLength="52.7" lengthAdjust="spacingAndGlyphs">dsNP1</text>
<text x="859.5" y="982.2" font-family='"Liberation Serif", serif' font-size="19.2" font-weight="bold" text-anchor="start" fill="#0b0b0b" textLength="52.7" lengthAdjust="spacingAndGlyphs">dsNP2</text>
<rect x="671.8" y="735" width="61.5" height="115.20000000000005" fill="#050707"/>
<rect x="672.5" y="850" width="61.39999999999998" height="97.0" fill="#050707"/>
<rect x="765.0" y="928.5" width="60.09999999999993" height="19.299999999999955" fill="#d1d3d3" stroke="#181818" stroke-width="1.6"/>
<rect x="856.9" y="918.0" width="61.10000000000002" height="29.0" fill="#fff"/>
<g stroke="#777" stroke-width="1.4" fill="none">
<line x1="887.5" y1="917" x2="887.5" y2="919.5"/>
<line x1="872.5" y1="917" x2="902.5" y2="917"/>
<line x1="872.5" y1="919.5" x2="902.5" y2="919.5"/>
</g>
<rect x="857.525" y="918.625" width="59.85000000000002" height="29.0" fill="url(#h8)" stroke="#111" stroke-width="1.25"/>
<g stroke="#2e2e2e" stroke-width="1.4" fill="none">
<line x1="702.5" y1="714.3" x2="702.5" y2="735"/>
<line x1="686.65" y1="714.3" x2="718.35" y2="714.3"/>
</g>
<circle cx="702.5" cy="735" r="2.8" fill="#0a0a0a"/>
<g stroke="#666" stroke-width="1.4" fill="none">
<line x1="795.5" y1="926.3" x2="795.5" y2="929.5"/>
<line x1="780.0" y1="926.3" x2="811.0" y2="926.3"/>
<line x1="780.0" y1="929.5" x2="811.0" y2="929.5"/>
</g>
<circle cx="795.5" cy="928.4" r="3.3" fill="#0a0a0a"/>
<polygon points="781.40,914.20 782.52,916.26 784.82,916.69 783.21,918.39 783.52,920.71 781.40,919.70 779.28,920.71 779.59,918.39 777.98,916.69 780.28,916.26" fill="#4a4a4a"/>
<polygon points="790.20,914.20 791.32,916.26 793.62,916.69 792.01,918.39 792.32,920.71 790.20,919.70 788.08,920.71 788.39,918.39 786.78,916.69 789.08,916.26" fill="#4a4a4a"/>
<polygon points="799.00,914.20 800.12,916.26 802.42,916.69 800.81,918.39 801.12,920.71 799.00,919.70 796.88,920.71 797.19,918.39 795.58,916.69 797.88,916.26" fill="#4a4a4a"/>
<polygon points="807.80,914.20 808.92,916.26 811.22,916.69 809.61,918.39 809.92,920.71 807.80,919.70 805.68,920.71 805.99,918.39 804.38,916.69 806.68,916.26" fill="#4a4a4a"/>
<circle cx="887.5" cy="918.2" r="3.0" fill="#0a0a0a"/>
<polygon points="877.70,905.00 878.82,907.06 881.12,907.49 879.51,909.19 879.82,911.51 877.70,910.50 875.58,911.51 875.89,909.19 874.28,907.49 876.58,907.06" fill="#4a4a4a"/>
<polygon points="886.50,905.00 887.62,907.06 889.92,907.49 888.31,909.19 888.62,911.51 886.50,910.50 884.38,911.51 884.69,909.19 883.08,907.49 885.38,907.06" fill="#4a4a4a"/>
<polygon points="895.30,905.00 896.42,907.06 898.72,907.49 897.11,909.19 897.42,911.51 895.30,910.50 893.18,911.51 893.49,909.19 891.88,907.49 894.18,907.06" fill="#4a4a4a"/>
</svg></body></html>
